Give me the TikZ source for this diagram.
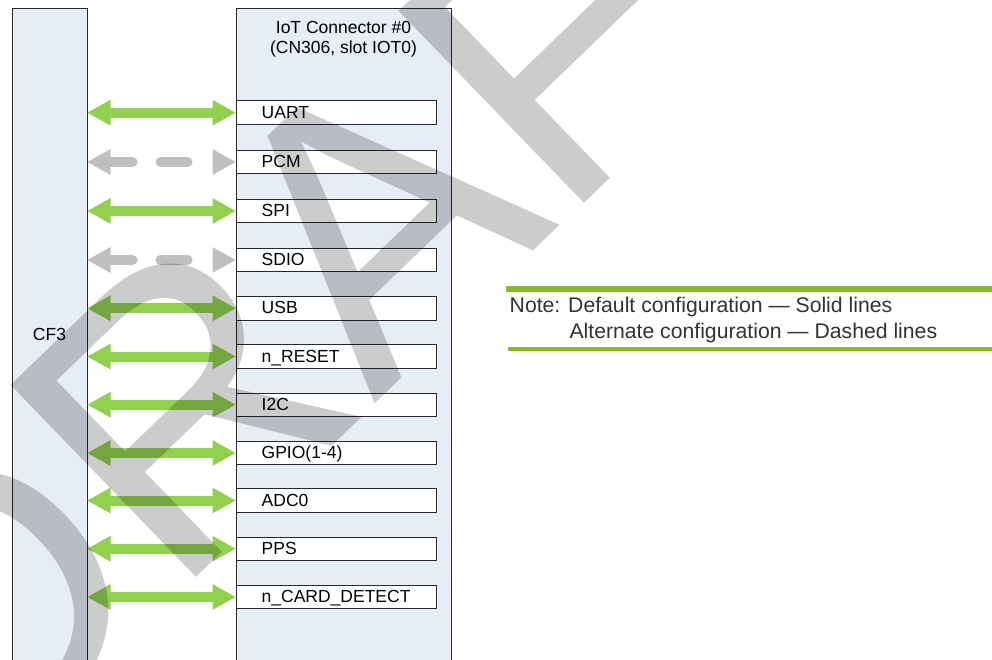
\documentclass[tikz,border=0pt]{standalone}
\usepackage{fontspec}
\setmainfont{Liberation Sans}
\usetikzlibrary{arrows.meta}
\definecolor{boxblue}{RGB}{230,237,247}
\definecolor{linegray}{RGB}{40,40,40}
\definecolor{arrowgreen}{RGB}{146,208,80}
\definecolor{dashgray}{RGB}{191,191,191}
\definecolor{notegreen}{RGB}{141,185,40}
\definecolor{notetext}{RGB}{50,50,50}
\begin{document}
\begin{tikzpicture}[x=1pt,y=-1pt,
  lblfont/.style={font=\fontsize{17.5}{20.3}\selectfont},
  notefont/.style={font=\fontsize{21.2}{26}\selectfont, text=notetext},
  tallbox/.style={draw=linegray, line width=1pt, fill=boxblue, outer sep=0pt, inner sep=0pt, anchor=north west, minimum height=652.2pt, lblfont},
  sigbox/.style={draw=linegray, line width=1pt, fill=white, outer sep=0pt, inner xsep=0pt, inner ysep=0pt, anchor=west, minimum width=200pt, minimum height=23.4pt, text width=200pt, align=left, text height=11.3pt, text depth=0pt, lblfont},
  biarrow/.style={draw=arrowgreen, line width=10pt, {Triangle[length=23.5pt,width=24pt]}-{Triangle[length=23.5pt,width=24pt]}},
  altarrow/.style={draw=dashgray, line width=10pt, line cap=round, dash pattern=on 27pt off 28pt, dash phase=3.5pt, {Triangle[length=23.5pt,width=24pt]}-{Triangle[length=23.5pt,width=24pt]}},
  noteline/.style={draw=notegreen},
  wm/.style={anchor=base, rotate=44, inner sep=0pt, text=black, opacity=0.2, font=\fontsize{388}{400}\selectfont},
]
\useasboundingbox (0,0) rectangle (992,660);
\clip (0,0) rectangle (992,660);

% tall boxes
\node[tallbox, minimum width=75pt] (cf3) at (12,8.3) {CF3};
\node[tallbox, minimum width=215pt] (iot) at (236,8.3) {};
\node[lblfont, align=center, anchor=base, inner sep=0pt] (iottitle) at (343.5,53.6) {IoT Connector \#0\\(CN306, slot IOT0)};

% signal boxes
\node[sigbox] (uart)  at (236,112.7) {\hspace*{25.7pt}UART};
\node[sigbox] (pcm)   at (236,162.0) {\hspace*{25.7pt}PCM};
\node[sigbox] (spi)   at (236,211.0) {\hspace*{25.7pt}SPI};
\node[sigbox] (sdio)  at (236,260.0) {\hspace*{25.7pt}SDIO};
\node[sigbox] (usb)   at (236,308.3) {\hspace*{25.7pt}USB};
\node[sigbox] (nrst)  at (236,356.5) {\hspace*{25.7pt}n\_RESET};
\node[sigbox] (itc)   at (236,404.7) {\hspace*{25.7pt}I2C};
\node[sigbox] (gpio)  at (236,453.0) {\hspace*{25.7pt}GPIO(1-4)};
\node[sigbox] (adc)   at (236,500.5) {\hspace*{25.7pt}ADC0};
\node[sigbox] (pps)   at (236,548.7) {\hspace*{25.7pt}PPS};
\node[sigbox] (ncd)   at (236,597.0) {\hspace*{25.7pt}n\_CARD\_DETECT};

% connectors
\draw[biarrow]  (cf3.east |- uart.west) -- (uart.west);
\draw[altarrow] (cf3.east |- pcm.west)  -- (pcm.west);
\draw[biarrow]  (cf3.east |- spi.west)  -- (spi.west);
\draw[altarrow] (cf3.east |- sdio.west) -- (sdio.west);
\draw[biarrow]  (cf3.east |- usb.west)  -- (usb.west);
\draw[biarrow]  (cf3.east |- nrst.west) -- (nrst.west);
\draw[biarrow]  (cf3.east |- itc.west)  -- (itc.west);
\draw[biarrow]  (cf3.east |- gpio.west) -- (gpio.west);
\draw[biarrow]  (cf3.east |- adc.west)  -- (adc.west);
\draw[biarrow]  (cf3.east |- pps.west)  -- (pps.west);
\draw[biarrow]  (cf3.east |- ncd.west)  -- (ncd.west);

% note
\draw[noteline, line width=5.5pt] (506,288.8) -- (992,288.8);
\draw[noteline, line width=4pt] (508,349.2) -- (992,349.2);
\node[notefont, anchor=base west, inner sep=0pt] (note1) at (509.5,312.6) {Note: Default configuration — Solid lines};
\node[notefont, anchor=base west, inner sep=0pt] (note2) at (569.3,338.4) {Alternate configuration — Dashed lines};

% watermark
\node[wm] (draft) at (437,345) {DRAFT};
\end{tikzpicture}
\end{document}
